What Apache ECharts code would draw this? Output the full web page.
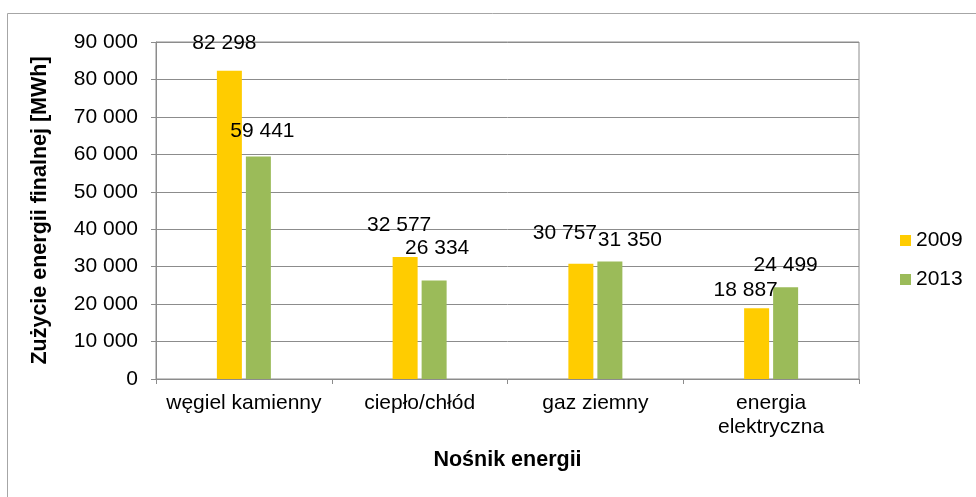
<!DOCTYPE html>
<html>
<head>
<meta charset="utf-8">
<script src="https://cdn.jsdelivr.net/npm/echarts@6/dist/echarts.min.js"></script>
<style>
  html, body { margin: 0; padding: 0; background: #fff; }
  #chart { width: 976px; height: 497px; }
</style>
</head>
<body>
<div id="chart"></div>
<script>
const categories = ['węgiel kamienny', 'ciepło/chłód', 'gaz ziemny', 'energia\nelektryczna']
const values2009 = [82298, 32577, 30757, 18887]
const values2013 = [59441, 26334, 31350, 24499]
const yTicks = { min: 0, max: 90000, interval: 10000 }

// label nudges, Excel placed them by hand
const offsets2009 = [[-5, -12], [-6, -16], [-16, -15], [-11, -3]]
const offsets2013 = [[4, -10], [3, -17], [20, -6], [0, -7]]

const FONT = 'Liberation Sans, Arial, sans-serif'
const fmt = v => String(v).replace(/\B(?=(\d{3})+(?!\d))/g, ' ')

function withOffsets (values, offsets) {
  return values.map((v, i) => ({ value: v, label: { offset: offsets[i] } }))
}

const barLabel = {
  show: true,
  position: 'top',
  distance: 5,
  color: '#000',
  fontFamily: FONT,
  fontSize: 21,
  formatter: p => fmt(p.value)
}

const option = {
  animation: false,
  textStyle: { fontFamily: FONT },
  graphic: [{
    type: 'rect',
    shape: { x: 7.5, y: 13.5, width: 1000, height: 600 },
    style: { fill: 'none', stroke: '#a6a6a6', lineWidth: 1 },
    z: 0
  }],
  grid: {
    left: 156, right: 117, top: 42, bottom: 118,
    show: true, borderColor: '#8c8c8c', borderWidth: 1
  },
  legend: {
    orient: 'vertical',
    left: 900,
    top: 230,
    padding: 0,
    itemWidth: 11,
    itemHeight: 11,
    itemGap: 18,
    icon: 'rect',
    textStyle: { color: '#000', fontSize: 21, fontFamily: FONT, lineHeight: 21, padding: [0, 0, 0, 0] },
    data: ['2009', '2013']
  },
  xAxis: {
    type: 'category',
    data: categories,
    name: 'Nośnik energii',
    nameLocation: 'middle',
    nameGap: 70,
    nameTextStyle: { color: '#000', fontSize: 21.5, fontWeight: 'bold', fontFamily: FONT },
    axisLine: { lineStyle: { color: '#8c8c8c' } },
    axisTick: { show: true, length: 5, lineStyle: { color: '#8c8c8c' } },
    axisLabel: { color: '#000', fontSize: 21, fontFamily: FONT, margin: 12, lineHeight: 24, interval: 0 }
  },
  yAxis: {
    type: 'value',
    min: yTicks.min,
    max: yTicks.max,
    interval: yTicks.interval,
    name: 'Zużycie energii finalnej [MWh]',
    nameLocation: 'middle',
    nameGap: 105,
    nameTextStyle: { color: '#000', fontSize: 21.5, fontWeight: 'bold', fontFamily: FONT },
    axisLine: { show: true, lineStyle: { color: '#8c8c8c' } },
    axisTick: { show: true, length: 5, lineStyle: { color: '#8c8c8c' } },
    splitLine: { lineStyle: { color: '#8c8c8c' } },
    axisLabel: { color: '#000', fontSize: 21, fontFamily: FONT, margin: 18, formatter: fmt }
  },
  series: [
    {
      name: '2009',
      type: 'bar',
      barWidth: 25,
      barGap: '16%',
      itemStyle: { color: '#FFCC00' },
      label: barLabel,
      data: withOffsets(values2009, offsets2009)
    },
    {
      name: '2013',
      type: 'bar',
      barWidth: 25,
      barGap: '16%',
      itemStyle: { color: '#9BBB59' },
      label: barLabel,
      data: withOffsets(values2013, offsets2013)
    }
  ]
}

const myChart = echarts.init(document.getElementById('chart'))
myChart.setOption(option)
</script>
</body>
</html>
